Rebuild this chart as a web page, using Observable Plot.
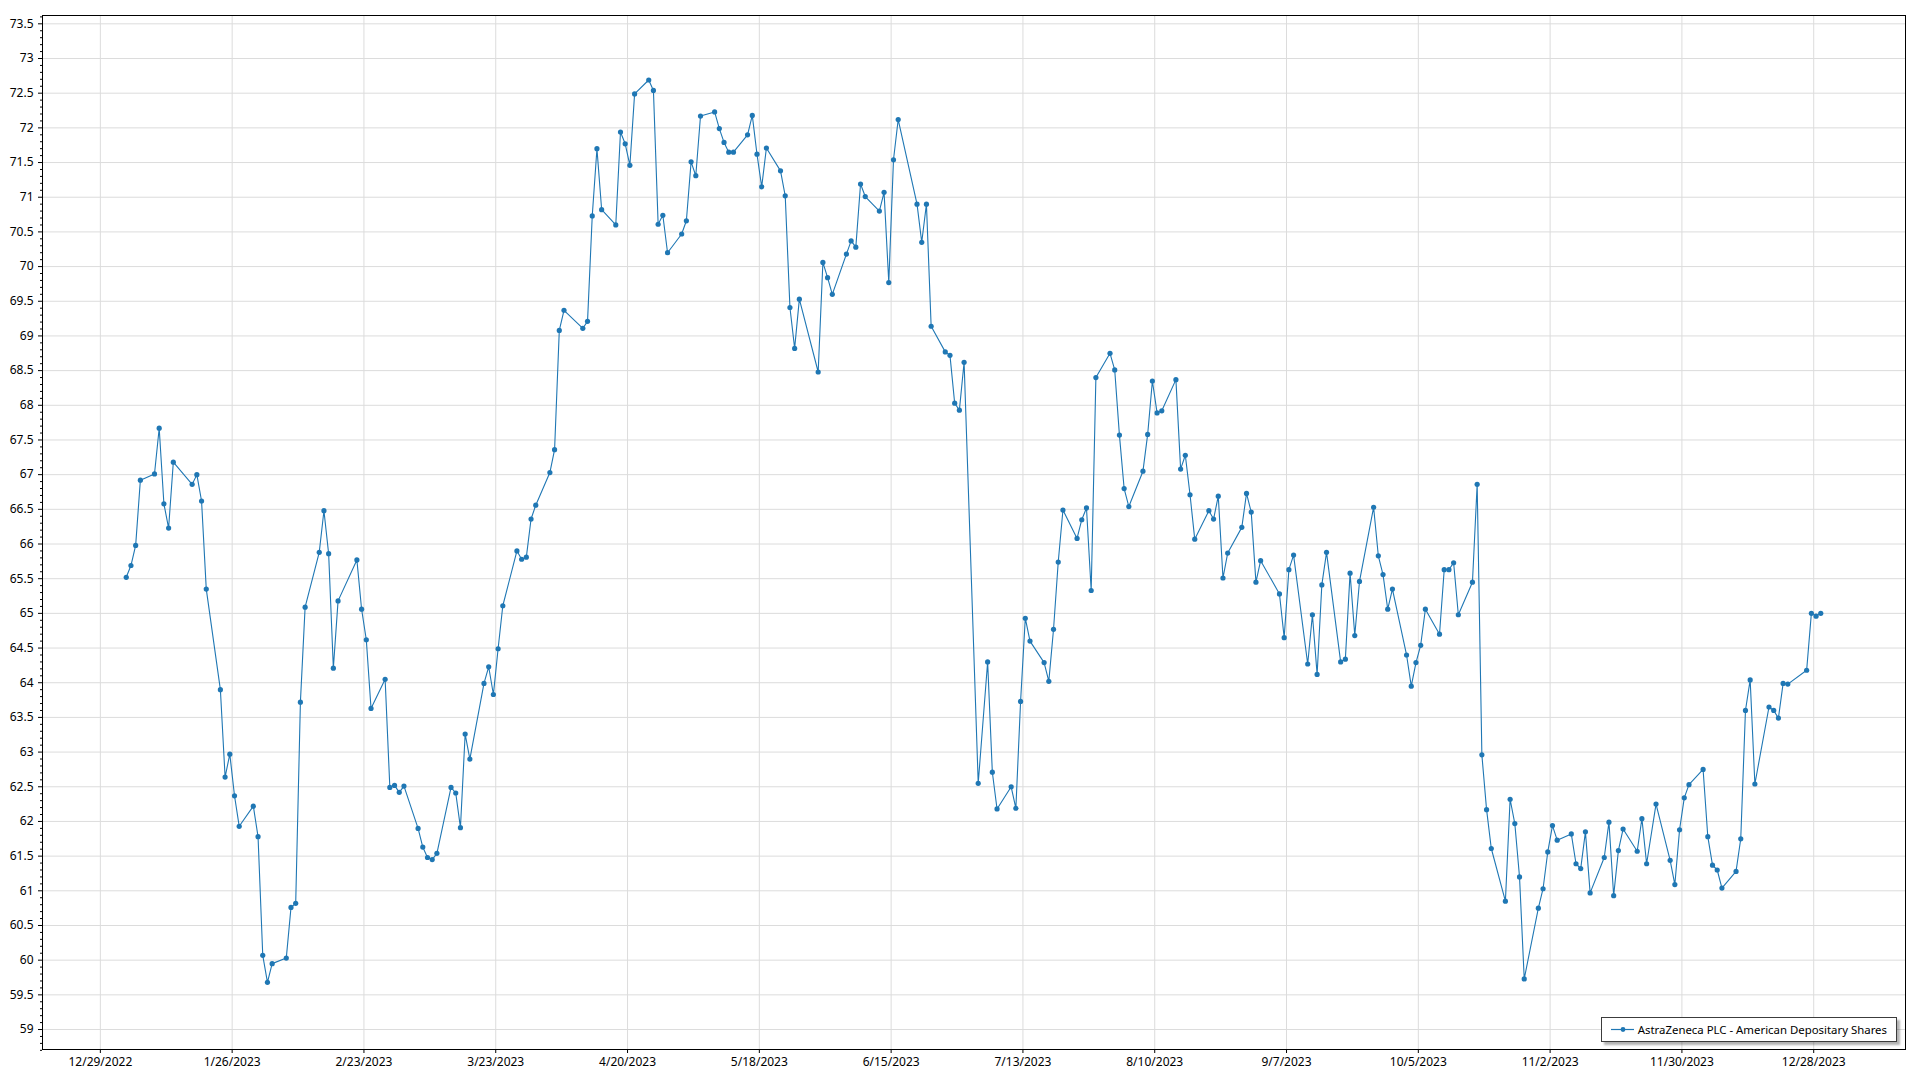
<!DOCTYPE html>
<html>
<head>
<meta charset="utf-8">
<script src="https://cdn.jsdelivr.net/npm/d3@7"></script>
<script src="https://cdn.jsdelivr.net/npm/@observablehq/plot@0.6"></script>
<style>
  html, body { margin: 0; padding: 0; background: #fff; }
  #wrap { position: relative; width: 1920px; height: 1080px; font-family: "Segoe UI", "Noto Sans", "Open Sans", sans-serif; }
  #legend { position: absolute; right: 23px; top: 1017px; height: 25px; box-sizing: border-box; padding: 0 9px 0 9px;
            border: 1px solid #3c3c3c; background: #fff; box-shadow: 3px 3px 2px rgba(0,0,0,0.3);
            font-size: 11.4px; color: #000; display: flex; align-items: center; white-space: nowrap; }
  #legend svg { margin-right: 4px; }
</style>
</head>
<body>
<div id="wrap"></div>
<script>
const seriesName = "AstraZeneca PLC - American Depositary Shares";
const lineColor = "#1f77b4";

// Trading days (2023) and closing values, month by month
const janDays = [3,4,5,6,9,10,11,12,13,17,18,19,20,23,24,25,26,27,30,31];
const janValues = [65.52,65.69,65.98,66.92,67.01,67.67,66.58,66.23,67.18,66.86,67.00,66.62,65.35,63.90,62.64,62.97,62.37,61.93,62.22,61.78];
const febDays = [1,2,3,6,7,8,9,10,13,14,15,16,17,21,22,23,24,27,28];
const febValues = [60.07,59.68,59.95,60.03,60.76,60.82,63.72,65.09,65.88,66.48,65.86,64.21,65.18,65.77,65.06,64.62,63.63,64.05,62.49];
const marDays = [1,2,3,6,7,8,9,10,13,14,15,16,17,20,21,22,23,24,27,28,29,30,31];
const marValues = [62.52,62.42,62.51,61.90,61.63,61.48,61.45,61.54,62.49,62.41,61.91,63.26,62.90,63.99,64.23,63.83,64.49,65.11,65.90,65.78,65.81,66.36,66.56];
const aprDays = [3,4,5,6,10,11,12,13,14,17,18,19,20,21,24,25,26,27,28];
const aprValues = [67.03,67.36,69.08,69.37,69.11,69.21,70.73,71.70,70.82,70.60,71.94,71.77,71.46,72.49,72.69,72.54,70.61,70.74,70.20];
const mayDays = [1,2,3,4,5,8,9,10,11,12,15,16,17,18,19,22,23,24,25,26,30,31];
const mayValues = [70.47,70.66,71.51,71.31,72.17,72.23,71.99,71.79,71.65,71.65,71.90,72.18,71.62,71.15,71.71,71.38,71.02,69.41,68.82,69.53,68.48,70.06];
const junDays = [1,2,5,6,7,8,9,12,13,14,15,16,20,21,22,23,26,27,28,29,30];
const junValues = [69.84,69.60,70.18,70.37,70.28,71.19,71.01,70.80,71.07,69.77,71.54,72.12,70.90,70.35,70.90,69.14,68.77,68.72,68.03,67.93,68.62];
const julDays = [3,5,6,7,10,11,12,13,14,17,18,19,20,21,24,25,26,27,28,31];
const julValues = [62.55,64.30,62.71,62.18,62.50,62.19,63.73,64.93,64.60,64.29,64.02,64.77,65.74,66.49,66.08,66.35,66.52,65.33,68.40,68.75];
const augDays = [1,2,3,4,7,8,9,10,11,14,15,16,17,18,21,22,23,24,25,28,29,30,31];
const augValues = [68.51,67.57,66.80,66.54,67.05,67.58,68.35,67.89,67.92,68.37,67.08,67.28,66.71,66.07,66.48,66.36,66.69,65.51,65.87,66.24,66.73,66.46,65.45];
const sepDays = [1,5,6,7,8,11,12,13,14,15,18,19,20,21,22,25,26,27,28,29];
const sepValues = [65.76,65.28,64.65,65.63,65.84,64.27,64.98,64.12,65.41,65.88,64.30,64.34,65.58,64.68,65.46,66.53,65.83,65.56,65.06,65.35];
const octDays = [2,3,4,5,6,9,10,11,12,13,16,17,18,19,20,23,24,25,26,27,30,31];
const octValues = [64.40,63.95,64.29,64.54,65.06,64.70,65.63,65.63,65.73,64.98,65.45,66.86,62.96,62.17,61.61,60.85,62.32,61.97,61.20,59.73,60.75,61.03];
const novDays = [1,2,3,6,7,8,9,10,13,14,15,16,17,20,21,22,24,27,28,29,30];
const novValues = [61.56,61.94,61.73,61.82,61.39,61.32,61.85,60.97,61.48,61.99,60.93,61.58,61.89,61.57,62.04,61.39,62.25,61.44,61.09,61.88,62.34];
const decDays = [1,4,5,6,7,8,11,12,13,14,15,18,19,20,21,22,26,27,28,29];
const decValues = [62.53,62.75,61.78,61.37,61.30,61.04,61.28,61.75,63.60,64.04,62.54,63.65,63.60,63.49,63.99,63.98,64.18,65.00,64.96,65.00];

// Axis tick labels
const xTickLabels = ["12/29/2022","1/26/2023","2/23/2023","3/23/2023","4/20/2023","5/18/2023","6/15/2023",
                     "7/13/2023","8/10/2023","9/7/2023","10/5/2023","11/2/2023","11/30/2023","12/28/2023"];
const yTickLabels = ["59","59.5","60","60.5","61","61.5","62","62.5","63","63.5","64","64.5","65","65.5","66","66.5",
                     "67","67.5","68","68.5","69","69.5","70","70.5","71","71.5","72","72.5","73","73.5"];

const months = [janDays, febDays, marDays, aprDays, mayDays, junDays, julDays, augDays, sepDays, octDays, novDays, decDays];
const monthValues = [janValues, febValues, marValues, aprValues, mayValues, junValues, julValues, augValues, sepValues, octValues, novValues, decValues];
// each session's value is stamped at midday
const data = months.flatMap((days, m) => days.map((d, i) => ({date: new Date(Date.UTC(2023, m, d, 12)), value: monthValues[m][i]})));

const xTicks = xTickLabels.map(s => { const [mo, d, y] = s.split("/").map(Number); return new Date(Date.UTC(y, mo - 1, d)); });
const yTicks = yTickLabels.map(Number);
const yMinor = d3.range(587, 737).map(v => v / 10).filter(v => Math.abs(v * 2 - Math.round(v * 2)) > 1e-6);
const fmtDate = d => `${d.getUTCMonth() + 1}/${d.getUTCDate()}/${d.getUTCFullYear()}`;
const fmtY = d => yTickLabels[yTicks.findIndex(t => Math.abs(t - d) < 1e-9)] ?? String(d);

const chart = Plot.plot({
  width: 1920,
  height: 1080,
  marginTop: 15,
  marginRight: 15,
  marginBottom: 31,
  marginLeft: 42,
  style: {fontFamily: '"Segoe UI", "Noto Sans", "Open Sans", sans-serif', fontSize: "12px", color: "#000", background: "#fff"},
  x: {type: "utc", domain: [new Date(Date.UTC(2022, 11, 16, 17)), new Date(Date.UTC(2024, 0, 16, 12))]},
  y: {domain: [58.712, 73.62]},
  marks: [
    Plot.gridX({ticks: xTicks, stroke: "#dcdcdc", strokeOpacity: 1}),
    Plot.gridY({ticks: yTicks, stroke: "#dcdcdc", strokeOpacity: 1}),
    Plot.line(data, {x: "date", y: "value", stroke: lineColor, strokeWidth: 1.1}),
    Plot.dot(data, {x: "date", y: "value", r: 2.6, fill: lineColor}),
    Plot.axisX({ticks: xTicks, tickSize: 4, tickPadding: 4, tickFormat: fmtDate, label: null}),
    Plot.axisY({ticks: yTicks, tickSize: 4, tickPadding: 5, tickFormat: fmtY, label: null}),
    Plot.axisY({ticks: yMinor, tickSize: 2, tickFormat: () => "", label: null}),
    Plot.frame({stroke: "#000", strokeWidth: 1})
  ]
});

const wrap = document.getElementById("wrap");
wrap.appendChild(chart);

const legend = document.createElement("div");
legend.id = "legend";
legend.innerHTML = `<svg width="23" height="9"><line x1="0" y1="4.5" x2="23" y2="4.5" stroke="${lineColor}" stroke-width="1.2"/><circle cx="12" cy="4.5" r="2.4" fill="${lineColor}"/></svg><span></span>`;
legend.querySelector("span").textContent = seriesName;
wrap.appendChild(legend);
</script>
</body>
</html>
